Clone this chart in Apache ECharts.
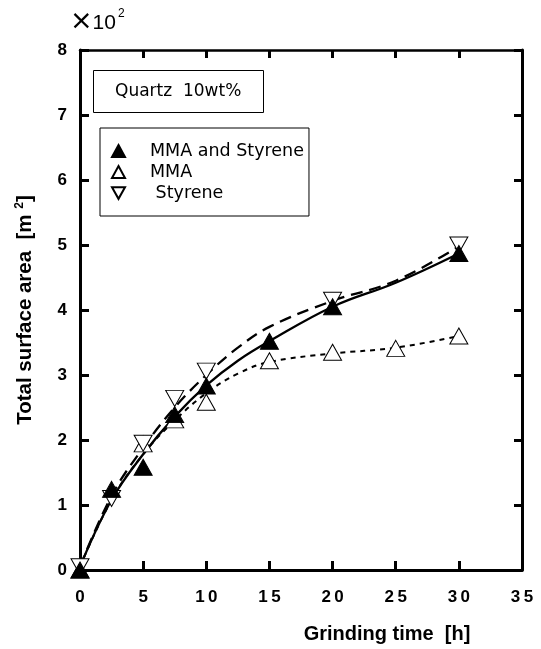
<!DOCTYPE html>
<html><head><meta charset="utf-8">
<script src="https://cdn.jsdelivr.net/npm/echarts@6/dist/echarts.min.js"></script>
<style>html,body{margin:0;padding:0;background:#fff}#c{width:541px;height:649px}</style>
</head><body><div id="c"></div>
<script>
// Measured points [time h, surface area x10^2 m^2]
const timesBoth = [0, 2.5, 5, 7.5, 10, 15, 20, 30];
const valuesBoth = [0, 1.24, 1.58, 2.39, 2.83, 3.52, 4.05, 4.87];
const timesMMA = [0, 5, 7.5, 10, 15, 20, 25, 30];
const valuesMMA = [0, 1.94, 2.31, 2.58, 3.22, 3.35, 3.41, 3.6];
const timesSty = [0, 2.5, 5, 7.5, 10, 20, 30];
const valuesSty = [0.05, 1.1, 1.95, 2.64, 3.06, 4.15, 5.0];
// Fitted curves
const curveTimes = [0, 2.5, 5, 7.5, 10, 12.5, 15, 20, 25, 30];
const curveBoth = [0.05, 1.08, 1.78, 2.36, 2.84, 3.22, 3.52, 4.05, 4.42, 4.87];
const curveSty = [0.05, 1.14, 1.88, 2.5, 3.0, 3.42, 3.74, 4.14, 4.45, 4.98];
const curveMMA = [0.05, 1.08, 1.78, 2.3, 2.72, 3.02, 3.2, 3.33, 3.42, 3.6];
const xTicks = [0, 5, 10, 15, 20, 25, 30, 35];
const yTicks = [0, 1, 2, 3, 4, 5, 6, 7, 8];

const zip = (a, b) => a.map((t, i) => [t, b[i]]);
const FONT = 'Liberation Sans, Arial, sans-serif';
const BOXFONT = 'DejaVu Sans, sans-serif';
const downTri = 'path://M0,0L20,0L10,18Z';

const chart = echarts.init(document.getElementById('c'), null, {renderer: 'canvas'});
chart.setOption({
  animation: false,
  backgroundColor: '#fff',
  grid: {left: 80, right: 19, top: 50, bottom: 79},
  title: {
    text: 'Quartz  10wt%', left: 93, top: 70,
    borderColor: '#000', borderWidth: 1, padding: [11, 22, 11, 22],
    textStyle: {fontFamily: BOXFONT, fontSize: 17, fontWeight: 'normal', color: '#000', lineHeight: 21}
  },
  legend: {
    orient: 'vertical', left: 100, top: 128,
    borderColor: '#000', borderWidth: 1, padding: [14, 5, 14, 11],
    itemGap: 3, itemWidth: 13, itemHeight: 12,
    textStyle: {fontFamily: BOXFONT, fontSize: 17.5, color: '#000', lineHeight: 17, padding: [0, 0, 0, 20]},
    data: [
      {name: 'MMA and Styrene', icon: 'triangle'},
      {name: 'MMA', icon: 'triangle'},
      {name: ' Styrene', icon: downTri}
    ]
  },
  graphic: [
    {type: 'text', left: 70, top: 8, style: {
      text: '{x|×}{n|10}{s|2}', fill: '#000',
      rich: {
        x: {fontSize: 27, fontFamily: 'DejaVu Sans, sans-serif', fontWeight: 'normal'},
        n: {fontSize: 21, fontFamily: FONT, padding: [4, 0, 0, 0]},
        s: {fontSize: 12, fontFamily: FONT, verticalAlign: 'top', padding: [0, 0, 12, 2]}
      }
    }}
  ],
  xAxis: [{
    type: 'value', min: 0, max: 35, interval: 5,
    name: 'Grinding time  [h]', nameLocation: 'middle', nameGap: 54,
    nameTextStyle: {fontFamily: FONT, fontSize: 20, fontWeight: 'bold', color: '#000', padding: [0, 0, 0, 172]},
    axisLine: {onZero: false, lineStyle: {color: '#000', width: 3}},
    axisTick: {inside: true, length: 9, lineStyle: {width: 3}},
    axisLabel: {fontFamily: FONT, fontSize: 17, fontWeight: 'bold', color: '#000', margin: 19,
      formatter: v => String(v).split('').join('\u2009')},
    splitLine: {show: false}
  }, {
    type: 'value', position: 'top', min: 0, max: 35, interval: 5,
    axisLine: {onZero: false, lineStyle: {color: '#000', width: 2.5}},
    axisTick: {inside: true, length: 8, lineStyle: {width: 3}},
    axisLabel: {show: false}, splitLine: {show: false}
  }],
  yAxis: [{
    type: 'value', min: 0, max: 8, interval: 1,
    name: 'Total surface area  [m {s|2}]', nameLocation: 'middle', nameGap: 44,
    nameTextStyle: {fontFamily: FONT, fontSize: 20.5, fontWeight: 'bold', color: '#000',
      rich: {s: {fontSize: 12, fontWeight: 'bold', verticalAlign: 'top', padding: [0, 0, 10, 0], fontFamily: FONT}}},
    axisLine: {onZero: false, lineStyle: {color: '#000', width: 3}},
    axisTick: {inside: true, length: 9, lineStyle: {width: 3}},
    axisLabel: {fontFamily: FONT, fontSize: 17, fontWeight: 'bold', color: '#000', margin: 13},
    splitLine: {show: false}
  }, {
    type: 'value', position: 'right', min: 0, max: 8, interval: 1,
    axisLine: {onZero: false, lineStyle: {color: '#000', width: 3}},
    axisTick: {inside: true, length: 8, lineStyle: {width: 3}},
    axisLabel: {show: false}, splitLine: {show: false}
  }],
  series: [
    {name: 'fitBoth', type: 'line', smooth: 0.4, showSymbol: false, data: zip(curveTimes, curveBoth),
      lineStyle: {color: '#000', width: 2.3, type: 'solid'}, z: 2},
    {name: 'fitSty', type: 'line', smooth: 0.4, showSymbol: false, data: zip(curveTimes, curveSty),
      lineStyle: {color: '#000', width: 2.3, type: [12, 7]}, z: 2},
    {name: 'fitMMA', type: 'line', smooth: 0.4, showSymbol: false, data: zip(curveTimes, curveMMA),
      lineStyle: {color: '#000', width: 2, type: [5, 5]}, z: 2},
    {name: 'MMA', type: 'scatter', symbol: 'triangle', symbolSize: [18, 16], data: zip(timesMMA, valuesMMA),
      itemStyle: {color: '#fff', borderColor: '#000', borderWidth: 1, opacity: 1}, z: 3},
    {name: ' Styrene', type: 'scatter', symbol: downTri, symbolSize: [18, 16], data: zip(timesSty, valuesSty),
      itemStyle: {color: '#fff', borderColor: '#000', borderWidth: 1, opacity: 1}, z: 3},
    {name: 'MMA and Styrene', type: 'scatter', symbol: 'triangle', symbolSize: [18, 16], data: zip(timesBoth, valuesBoth),
      itemStyle: {color: '#000', borderColor: '#000', borderWidth: 1, opacity: 1}, z: 4}
  ]
});
</script></body></html>
